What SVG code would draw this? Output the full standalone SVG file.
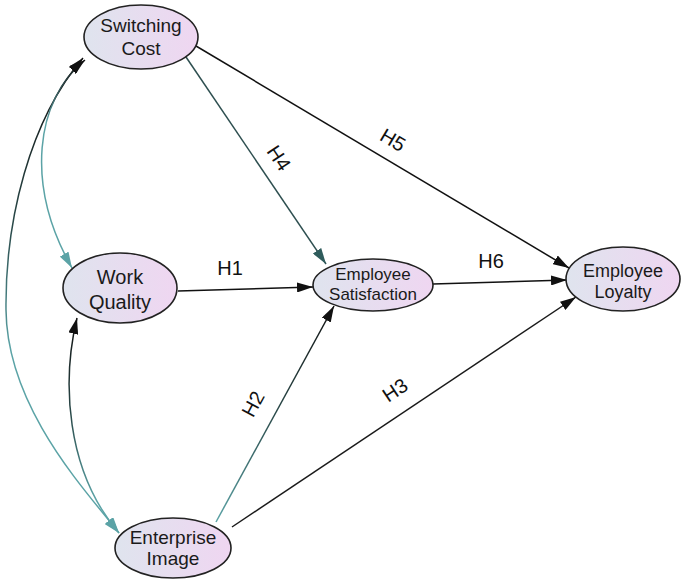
<svg xmlns="http://www.w3.org/2000/svg" width="685" height="584" viewBox="0 0 685 584">
<style>
.node{stroke:#222;stroke-width:1.6}
.t{font-family:"Liberation Sans",Arial,sans-serif;fill:#1a1a1a;text-anchor:middle}
.lbl{font-family:"Liberation Sans",Arial,sans-serif;fill:#111;font-size:20px;text-anchor:middle}
.e{fill:none;stroke-width:1.5}
</style>
<defs>
<linearGradient id="nf" x1="0" y1="0" x2="1" y2="0">
<stop offset="0" stop-color="#dfe4ee"/>
<stop offset="1" stop-color="#efd6f1"/>
</linearGradient>
<linearGradient id="gOuter" gradientUnits="userSpaceOnUse" x1="0" y1="60" x2="0" y2="540">
<stop offset="0" stop-color="#111"/>
<stop offset="0.35" stop-color="#2a4a4a"/>
<stop offset="0.6" stop-color="#5ba3a6"/>
<stop offset="1" stop-color="#5ba3a6"/>
</linearGradient>
<linearGradient id="gSW" gradientUnits="userSpaceOnUse" x1="0" y1="60" x2="0" y2="270">
<stop offset="0" stop-color="#111"/>
<stop offset="0.3" stop-color="#5ba3a6"/>
<stop offset="1" stop-color="#5ba3a6"/>
</linearGradient>
<linearGradient id="gWE" gradientUnits="userSpaceOnUse" x1="0" y1="318" x2="0" y2="532">
<stop offset="0" stop-color="#111"/>
<stop offset="0.45" stop-color="#2a4a4a"/>
<stop offset="0.85" stop-color="#5ba3a6"/>
<stop offset="1" stop-color="#5ba3a6"/>
</linearGradient>
<linearGradient id="gH2" gradientUnits="userSpaceOnUse" x1="0" y1="522" x2="0" y2="306">
<stop offset="0" stop-color="#5ba3a6"/>
<stop offset="0.5" stop-color="#2a4a4a"/>
<stop offset="1" stop-color="#111"/>
</linearGradient>
<marker id="ab" markerUnits="userSpaceOnUse" markerWidth="16" markerHeight="10" refX="16" refY="5" orient="auto-start-reverse">
<path d="M0,0 L16,5 L0,10 z" fill="#111"/>
</marker>
<marker id="at" markerUnits="userSpaceOnUse" markerWidth="16" markerHeight="10" refX="16" refY="5" orient="auto-start-reverse">
<path d="M0,0 L16,5 L0,10 z" fill="#5ba3a6"/>
</marker>
<marker id="ad" markerUnits="userSpaceOnUse" markerWidth="16" markerHeight="10" refX="16" refY="5" orient="auto-start-reverse">
<path d="M0,0 L16,5 L0,10 z" fill="#2f5c5c"/>
</marker>
</defs>
<rect width="685" height="584" fill="#fff"/>
<g id="connectors">
<path class="e" stroke="url(#gOuter)" d="M83,58 C30,120 5,220 6,310 C7,410 90,495 119,533" marker-start="url(#ab)" marker-end="url(#at)"/>
<path class="e" stroke="url(#gSW)" d="M85,60 C35,100 25,185 72,268" marker-start="url(#ab)" marker-end="url(#at)"/>
<path class="e" stroke="url(#gWE)" d="M77,318 C62,380 65,470 119,533" marker-start="url(#ab)" marker-end="url(#at)"/>
<path class="e" stroke="#2e4f50" d="M186,57 L326,264" marker-end="url(#ad)"/>
<path class="e" stroke="#111" d="M196,46 L569,268" marker-end="url(#ab)"/>
<path class="e" stroke="#111" d="M178,291 L313,287" marker-end="url(#ab)"/>
<path class="e" stroke="#111" d="M433,284 L567,280" marker-end="url(#ab)"/>
<path class="e" stroke="url(#gH2)" d="M216,522 L334,306" marker-end="url(#ab)"/>
<path class="e" stroke="#1a1a1a" d="M232,527 L576,297" marker-end="url(#ab)"/>
<text class="lbl" transform="translate(279,158) rotate(56)" dy="7">H4</text>
<text class="lbl" transform="translate(393,140) rotate(30.7)" dy="7">H5</text>
<text class="lbl" x="230" y="275">H1</text>
<text class="lbl" x="491" y="268">H6</text>
<text class="lbl" transform="translate(253,404) rotate(-61.6)" dy="7">H2</text>
<text class="lbl" transform="translate(395,390) rotate(-33.7)" dy="7">H3</text>
</g>
<g id="switching-cost">
<ellipse class="node" cx="141" cy="37" rx="57" ry="32" fill="url(#nf)"/>
<text class="t" font-size="19" x="141" y="32">Switching</text>
<text class="t" font-size="19" x="141" y="55">Cost</text>
</g>
<g id="work-quality">
<ellipse class="node" cx="120" cy="288" rx="57" ry="35" fill="url(#nf)"/>
<text class="t" font-size="20" x="120" y="284">Work</text>
<text class="t" font-size="20" x="120" y="309">Quality</text>
</g>
<g id="employee-satisfaction">
<ellipse class="node" cx="373" cy="285" rx="60" ry="26" fill="url(#nf)"/>
<text class="t" font-size="17" x="373" y="280">Employee</text>
<text class="t" font-size="17" x="373" y="300">Satisfaction</text>
</g>
<g id="employee-loyalty">
<ellipse class="node" cx="623" cy="279" rx="57" ry="32" fill="url(#nf)"/>
<text class="t" font-size="18" x="623" y="277">Employee</text>
<text class="t" font-size="18" x="623" y="298">Loyalty</text>
</g>
<g id="enterprise-image">
<ellipse class="node" cx="173" cy="548" rx="58" ry="30" fill="url(#nf)"/>
<text class="t" font-size="19" x="173" y="544">Enterprise</text>
<text class="t" font-size="19" x="173" y="565">Image</text>
</g>
</svg>
